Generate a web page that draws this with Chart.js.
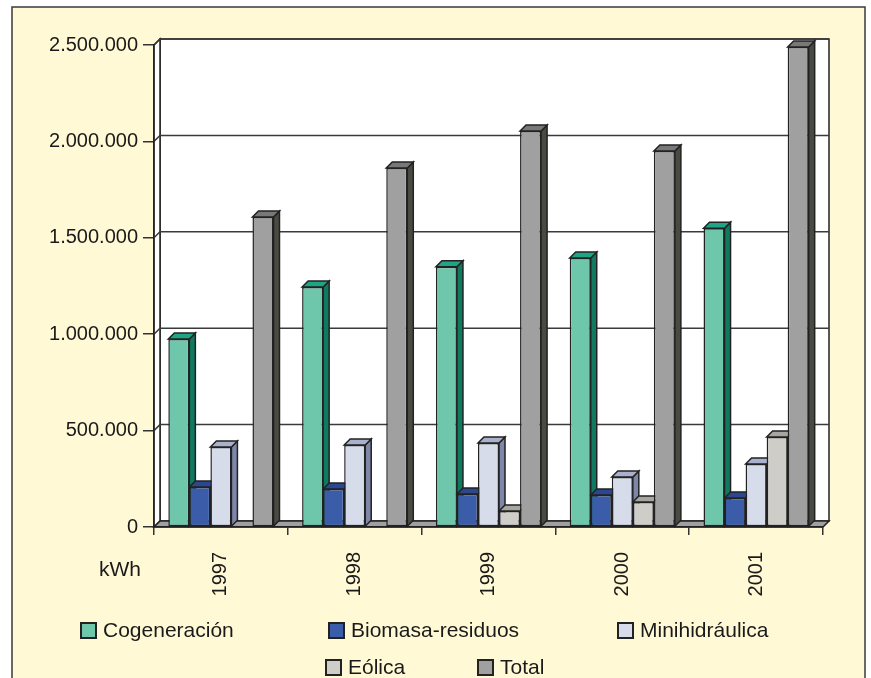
<!DOCTYPE html>
<html><head><meta charset="utf-8">
<script src="https://cdn.jsdelivr.net/npm/chart.js@4.4.1/dist/chart.umd.min.js"></script>
<style>html,body{margin:0;padding:0;background:#fff;}canvas{display:block}</style>
</head><body>
<canvas id="c" width="871" height="678"></canvas>
<script>
const categories = ['1997', '1998', '1999', '2000', '2001'];
const cogeneracion = [975000, 1245000, 1350000, 1395000, 1550000];
const biomasaResiduos = [207000, 197000, 171000, 166000, 150000];
const minihidraulica = [415000, 425000, 436000, 259000, 327000];
const eolica = [0, 0, 83000, 130000, 467000];
const total = [1608000, 1862000, 2054000, 1950000, 2490000];
const seriesNames = ['Cogeneración', 'Biomasa-residuos', 'Minihidráulica', 'Eólica', 'Total'];
const yTicks = [0, 500000, 1000000, 1500000, 2000000, 2500000];
const unitLabel = 'kWh';

const seriesData = [cogeneracion, biomasaResiduos, minihidraulica, eolica, total];
const FONT = '"Liberation Sans", Arial, sans-serif';
const D = 6;
const styles = [
  {front: '#6EC6AB', top: '#1FA585', side: '#0F7A60'},
  {front: '#3A5CA9', top: '#2B4790', side: '#243A7A'},
  {front: '#D6DCEA', top: '#A9B1CC', side: '#7E87A8'},
  {front: '#CFCDC8', top: '#A8A6A0', side: '#8E8C86'},
  {front: '#A0A0A0', top: '#787878', side: '#4A4A42'}
];
const legendLayout = [
  {x: 81, y: 630}, {x: 329, y: 630}, {x: 618, y: 630},
  {x: 326, y: 667}, {x: 478, y: 667}
];
const fmt = v => String(v).replace(/\B(?=(\d{3})+(?!\d))/g, '.');

function poly(ctx, pts, fill, stroke, lw) {
  ctx.beginPath();
  ctx.moveTo(pts[0][0], pts[0][1]);
  for (let i = 1; i < pts.length; i++) ctx.lineTo(pts[i][0], pts[i][1]);
  ctx.closePath();
  if (fill) { ctx.fillStyle = fill; ctx.fill(); }
  if (stroke) { ctx.strokeStyle = stroke; ctx.lineWidth = lw || 1.5; ctx.lineJoin = 'miter'; ctx.stroke(); }
}

const deco = {
  id: 'deco',
  beforeDraw(chart) {
    const ctx = chart.ctx, a = chart.chartArea, ys = chart.scales.y;
    ctx.save();
    ctx.fillStyle = '#ffffff';
    ctx.fillRect(0, 0, chart.width, chart.height);
    ctx.fillStyle = '#FFF9D6';
    ctx.fillRect(12, 7, 853, 700);
    ctx.strokeStyle = '#3a3a3a';
    ctx.lineWidth = 1.5;
    ctx.strokeRect(12, 7, 853, 700);
    poly(ctx, [[a.left + D, a.top - D], [a.right + D, a.top - D], [a.right + D, a.bottom - D], [a.left + D, a.bottom - D]], '#ffffff', '#222', 1.5);
    poly(ctx, [[a.left, a.top], [a.left + D, a.top - D], [a.left + D, a.bottom - D], [a.left, a.bottom]], '#ffffff', '#222', 1.5);
    ctx.strokeStyle = '#3a3a3a';
    ctx.lineWidth = 1.5;
    yTicks.forEach(v => {
      if (v <= 0) return;
      const y = ys.getPixelForValue(v);
      ctx.beginPath();
      ctx.moveTo(a.left, y);
      ctx.lineTo(a.left + D, y - D);
      ctx.lineTo(a.right + D, y - D);
      ctx.stroke();
    });
    poly(ctx, [[a.left, a.bottom], [a.left + D, a.bottom - D], [a.right + D, a.bottom - D], [a.right, a.bottom]], '#A0A0A0', '#222', 1.5);
    ctx.restore();
  },
  beforeDatasetsDraw(chart) {
    const ctx = chart.ctx;
    ctx.save();
    const bars = [];
    chart.data.datasets.forEach((ds, i) => {
      const meta = chart.getDatasetMeta(i);
      meta.data.forEach((el, j) => {
        if (!ds.data[j]) return;
        const p = el.getProps(['x', 'y', 'base', 'width'], true);
        bars.push({l: p.x - p.width / 2, r: p.x + p.width / 2, t: p.y, b: p.base, s: styles[i]});
      });
    });
    bars.forEach(o => poly(ctx, [[o.r, o.t], [o.r + D, o.t - D], [o.r + D, o.b - D], [o.r, o.b]], o.s.side, '#222', 1.5));
    bars.forEach(o => poly(ctx, [[o.l, o.t], [o.l + D, o.t - D], [o.r + D, o.t - D], [o.r, o.t]], o.s.top, '#222', 1.5));
    ctx.restore();
  },
  afterDraw(chart) {
    const ctx = chart.ctx;
    ctx.save();
    ctx.font = '21px ' + FONT;
    ctx.textBaseline = 'middle';
    ctx.textAlign = 'left';
    ctx.fillStyle = '#1a1a1a';
    ctx.fillText(unitLabel, 99, 570);
    seriesNames.forEach((name, i) => {
      const L = legendLayout[i];
      ctx.fillStyle = styles[i].front;
      ctx.fillRect(L.x, L.y - 7, 15, 15);
      ctx.strokeStyle = '#222';
      ctx.lineWidth = 2;
      ctx.strokeRect(L.x, L.y - 7, 15, 15);
      ctx.fillStyle = '#1a1a1a';
      ctx.fillText(name, L.x + 22, L.y + 1);
    });
    ctx.restore();
  }
};

new Chart(document.getElementById('c'), {
  type: 'bar',
  data: {
    labels: categories,
    datasets: seriesData.map((d, i) => ({
      label: seriesNames[i],
      data: d,
      backgroundColor: styles[i].front,
      borderColor: '#222',
      borderWidth: 1.5,
      borderSkipped: false,
      categoryPercentage: 0.786,
      barPercentage: 1
    }))
  },
  options: {
    responsive: false,
    animation: false,
    layout: {padding: {left: 0, top: 45, right: 48, bottom: 0}},
    plugins: {legend: {display: false}, tooltip: {enabled: false}},
    scales: {
      x: {
        grid: {display: true, drawOnChartArea: false, drawTicks: true, tickLength: 8, color: '#333', lineWidth: 1.5, offset: true},
        border: {display: true, color: '#222', width: 1.5},
        ticks: {minRotation: 90, maxRotation: 90, padding: 17, color: '#1a1a1a', font: {family: FONT, size: 20}},
        afterFit(s) { s.height = 151; }
      },
      y: {
        min: 0, max: 2500000,
        afterBuildTicks(s) { s.ticks = yTicks.map(v => ({value: v})); },
        ticks: {callback: v => fmt(v), padding: 5, color: '#1a1a1a', font: {family: FONT, size: 20}},
        grid: {drawOnChartArea: false, drawTicks: true, tickLength: 11, color: '#333', lineWidth: 1.5},
        border: {display: true, color: '#222', width: 1.5},
        afterFit(s) { s.width = 154; }
      }
    }
  },
  plugins: [deco]
});
</script>
</body></html>
